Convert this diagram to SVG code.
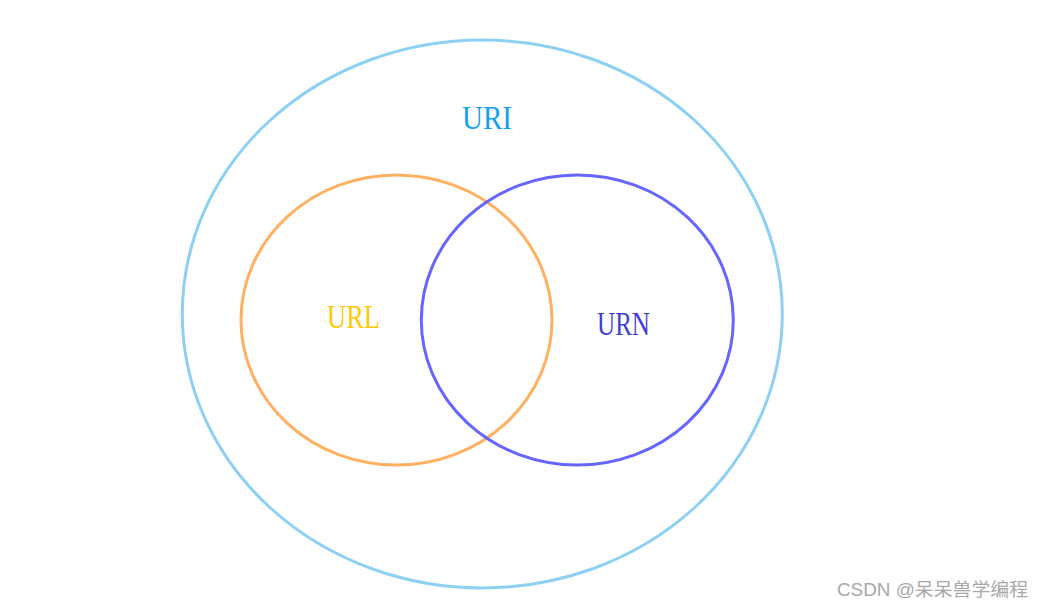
<svg xmlns="http://www.w3.org/2000/svg" width="1044" height="608" viewBox="0 0 1044 608">
<style>
.ring{fill:none;stroke-width:3}
.lbl{font-family:"Liberation Serif","DejaVu Serif",serif;font-size:34px}
.wm{font-family:"Liberation Sans","Noto Sans CJK SC",sans-serif;font-size:18.5px;fill:#a8a8a8}
</style>
<rect width="1044" height="608" fill="#ffffff"/>
<g id="uri">
<ellipse class="ring" cx="482.3" cy="314" rx="300" ry="274" stroke="#8ed0f2"/>
<text class="lbl" x="462" y="129" textLength="50" lengthAdjust="spacingAndGlyphs" fill="#12a2ec">URI</text>
</g>
<g id="url">
<ellipse class="ring" cx="396.5" cy="320" rx="155.5" ry="145" stroke="#ffb062"/>
<text class="lbl" x="327" y="328" textLength="53" lengthAdjust="spacingAndGlyphs" fill="#ffc800">URL</text>
</g>
<g id="urn">
<ellipse class="ring" cx="577.3" cy="320" rx="156" ry="145" stroke="#6666ff"/>
<text class="lbl" x="597" y="335" textLength="53" lengthAdjust="spacingAndGlyphs" fill="#3f3fd6">URN</text>
</g>
<g id="connectors"></g>
<text class="wm" x="837" y="596" textLength="191" lengthAdjust="spacingAndGlyphs">CSDN @呆呆兽学编程</text>
</svg>
